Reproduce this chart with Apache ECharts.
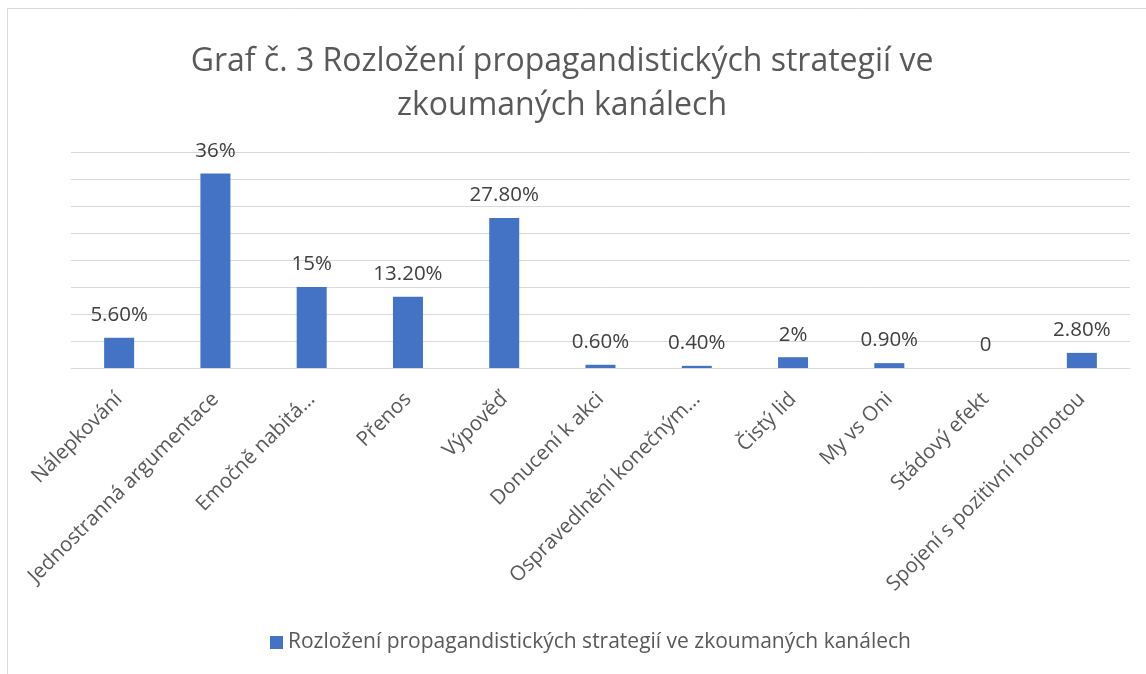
<!DOCTYPE html>
<html>
<head>
    <meta charset="utf-8">
    <title>Graf č. 3</title>
    <script src="https://cdn.jsdelivr.net/npm/echarts@6/dist/echarts.min.js"></script>
    <style>
        html, body { margin: 0; padding: 0; background: #fff; }
        #chart { width: 1146px; height: 674px; }
    </style>
</head>
<body>
<div id="chart"></div>
<script type="text/javascript">
    // kategorie a hodnoty (v %)
    var categories = ['Nálepkování', 'Jednostranná argumentace', 'Emočně nabitá…', 'Přenos', 'Výpověď',
        'Donucení k akci', 'Ospravedlnění konečným…', 'Čistý lid', 'My vs Oni', 'Stádový efekt',
        'Spojení s pozitivní hodnotou'];
    var values = [5.6, 36, 15, 13.2, 27.8, 0.6, 0.4, 2, 0.9, 0, 2.8];
    var valueLabels = ['5.60%', '36%', '15%', '13.20%', '27.80%', '0.60%', '0.40%', '2%', '0.90%', '0', '2.80%'];
    var seriesName = 'Rozložení propagandistických strategií ve zkoumaných kanálech';

    var font = 'Open Sans';
    var myChart = echarts.init(document.getElementById('chart'), null, { renderer: 'canvas' });

    var option = {
        backgroundColor: '#fff',
        animation: false,
        graphic: [{
            type: 'rect',
            shape: { x: 7.5, y: 8.5, width: 1160, height: 700 },
            style: { fill: 'none', stroke: '#d9d9d9', lineWidth: 1 },
            silent: true
        }],
        title: {
            text: 'Graf č. 3 Rozložení propagandistických strategií ve\nzkoumaných kanálech',
            left: 557,
            textAlign: 'center',
            top: 35,
            textStyle: {
                fontFamily: font,
                fontSize: 32,
                fontWeight: 'normal',
                color: '#595959',
                lineHeight: 44
            }
        },
        legend: {
            bottom: 16,
            left: 265,
            itemWidth: 13,
            itemHeight: 13,
            itemGap: 6,
            icon: 'rect',
            textStyle: { fontFamily: font, fontSize: 21, color: '#595959' },
            data: [seriesName]
        },
        grid: { left: 71, right: 16, top: 152, bottom: 306, containLabel: false },
        xAxis: {
            type: 'category',
            data: categories,
            axisLine: { lineStyle: { color: '#d9d9d9', width: 1 } },
            axisTick: { show: false },
            axisLabel: {
                interval: 0,
                rotate: 45,
                margin: 28,
                fontFamily: font,
                fontSize: 20.5,
                color: '#595959'
            }
        },
        yAxis: {
            type: 'value',
            min: 0,
            max: 40,
            interval: 5,
            axisLabel: { show: false },
            axisLine: { show: false },
            axisTick: { show: false },
            splitLine: { lineStyle: { color: '#d9d9d9', width: 1 } }
        },
        series: [{
            name: seriesName,
            type: 'bar',
            data: values,
            barWidth: 30,
            itemStyle: { color: '#4472c4' },
            label: {
                show: true,
                position: 'top',
                distance: 12,
                fontFamily: font,
                fontSize: 20.5,
                color: '#404040',
                formatter: function (p) { return valueLabels[p.dataIndex]; }
            }
        }]
    };

    myChart.setOption(option);
    window.addEventListener('resize', myChart.resize);
</script>
</body>
</html>
